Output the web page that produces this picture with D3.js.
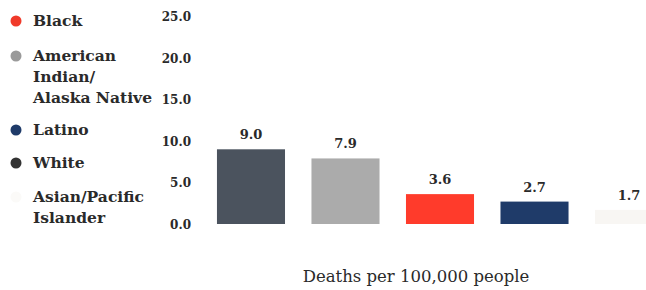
<!DOCTYPE html>
<html>
<head>
<meta charset="utf-8">
<script src="https://cdn.jsdelivr.net/npm/d3@7"></script>
<style>
  body { margin: 0; background: #fff; }
  svg text { font-family: "DejaVu Serif", "Liberation Serif", serif; fill: #2a2a2a; }
</style>
</head>
<body>
<script>
// bars, left to right
var groups = ["White", "American Indian/Alaska Native", "Black", "Latino", "Asian/Pacific Islander"];
var rates = [9.0, 7.9, 3.6, 2.7, 1.7];
var barColors = ["#4b535e", "#ababab", "#ff3b2b", "#1f3b69", "#f8f6f3"];

// legend order
var legendLines = [["Black"], ["American", "Indian/", "Alaska Native"], ["Latino"], ["White"], ["Asian/Pacific", "Islander"]];
var legendColors = ["#f03a2a", "#9a9a9a", "#1f3b69", "#333333", "#fbfaf8"];
var legendY = [21, 56, 130, 163, 197];

var yTicks = [0, 5, 10, 15, 20, 25];

var width = 646, height = 290;

var svg = d3.select("body")
    .append("svg")
    .attr("width", width)
    .attr("height", height);

var x = d3.scaleBand()
    .domain(groups)
    .range([190.5, 689.5])
    .padding(0.28);

var y = d3.scaleLinear()
    .domain([0, 25])
    .range([224, 16.5]);

// y axis labels only, no line
var yAxis = svg.append("g")
    .attr("transform", "translate(191,0)")
    .call(d3.axisLeft(y).tickValues(yTicks).tickFormat(d3.format(".1f")).tickSize(0).tickPadding(0));
yAxis.select(".domain").remove();
yAxis.selectAll("text")
    .attr("dy", "0.35em")
    .style("font-size", "12px")
    .style("font-weight", "bold")
    .style("font-family", '"DejaVu Serif", serif')
    .attr("fill", "#2a2a2a");

svg.append("g")
    .selectAll("rect")
    .data(rates)
    .enter().append("rect")
    .attr("x", function (d, i) { return x(groups[i]); })
    .attr("y", function (d) { return y(d); })
    .attr("width", x.bandwidth())
    .attr("height", function (d) { return y(0) - y(d); })
    .attr("fill", function (d, i) { return barColors[i]; });

svg.append("g")
    .selectAll("text")
    .data(rates)
    .enter().append("text")
    .attr("x", function (d, i) { return x(groups[i]) + x.bandwidth() / 2; })
    .attr("y", function (d) { return y(d) - 10; })
    .attr("text-anchor", "middle")
    .style("font-size", "13px")
    .style("font-weight", "bold")
    .text(function (d) { return d.toFixed(1); });

// legend
var legend = svg.append("g")
    .selectAll("g")
    .data(legendLines)
    .enter().append("g")
    .attr("transform", function (d, i) { return "translate(0," + legendY[i] + ")"; });

legend.append("circle")
    .attr("cx", 16)
    .attr("cy", 0)
    .attr("r", 5.5)
    .attr("fill", function (d, i) { return legendColors[i]; });

legend.append("text")
    .attr("x", 33)
    .attr("y", 0)
    .style("font-size", "15.5px")
    .style("font-weight", "bold")
    .selectAll("tspan")
    .data(function (d) { return d; })
    .enter().append("tspan")
    .attr("x", 33)
    .attr("y", function (d, i) { return i * 20.7; })
    .attr("dy", "0.35em")
    .text(function (d) { return d; });

svg.append("text")
    .attr("x", 416)
    .attr("y", 282)
    .attr("text-anchor", "middle")
    .style("font-size", "16.5px")
    .text("Deaths per 100,000 people");
</script>
</body>
</html>
